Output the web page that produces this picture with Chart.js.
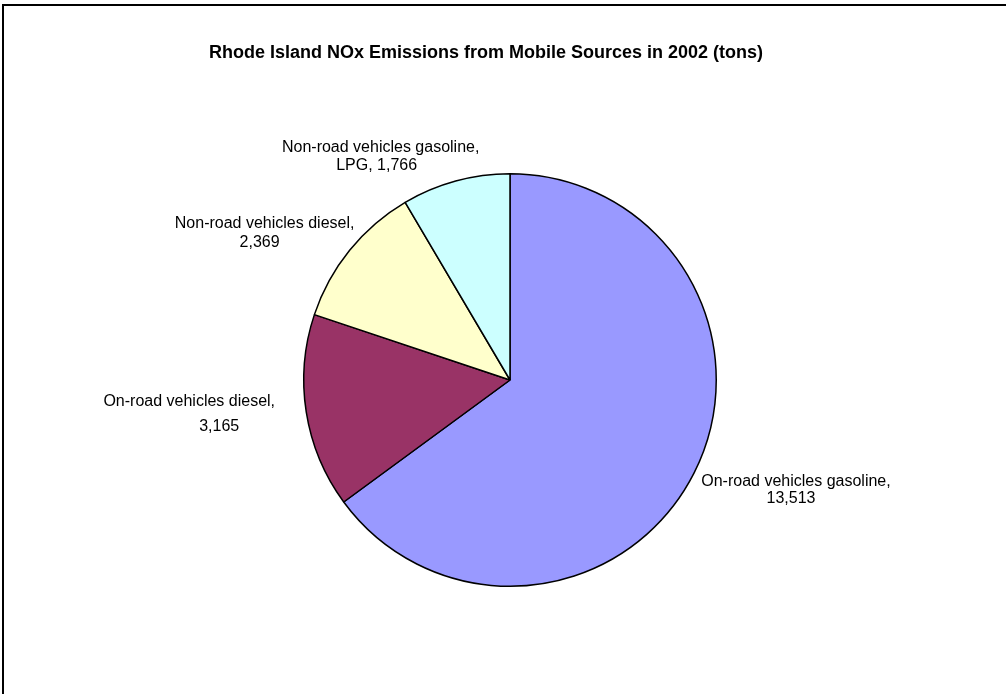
<!DOCTYPE html>
<html>
<head>
<meta charset="utf-8">
<title>Rhode Island NOx Emissions</title>
<script src="https://cdn.jsdelivr.net/npm/chart.js@4.4.1/dist/chart.umd.min.js"></script>
<style>
  html, body { margin: 0; padding: 0; background: #fff; overflow: hidden; }
  #wrap { position: relative; width: 1006px; height: 694px; }
  #frame {
    position: absolute; left: 2px; top: 4px; right: 0; bottom: 0;
    border-top: 2px solid #000; border-left: 2px solid #000;
    pointer-events: none;
  }
  canvas { position: absolute; left: 0; top: 0; }
</style>
</head>
<body>
<div id="wrap">
  <canvas id="pie" width="1006" height="694"></canvas>
  <div id="frame"></div>
</div>
<script>
const chartTitle = "Rhode Island NOx Emissions from Mobile Sources in 2002 (tons)";
const sources = [
  ["On-road vehicles gasoline,"],
  ["On-road vehicles diesel,"],
  ["Non-road vehicles diesel,"],
  ["Non-road vehicles gasoline,", "LPG,"]
];
const tons = [13513, 3165, 2369, 1766];
const sliceColors = ["#9999FF", "#993366", "#FFFFCC", "#CCFFFF"];

const fmt = (v) => v.toLocaleString("en-US");

// label lines as drawn next to each slice
function labelLines(i) {
  const parts = sources[i];
  if (parts.length > 1) return [parts[0], parts[1] + " " + fmt(tons[i])];
  return [parts[0], fmt(tons[i])];
}

// where each text line sits, relative to the slice's outer mid point
const lineOffsets = [
  [[102, 8], [97, 25]],
  [[-117, -10], [-87, 15]],
  [[-85, -27], [-90, -8]],
  [[-75, -33], [-79, -15]]
];

const pieLabels = {
  id: "pieLabels",
  afterDraw(chart) {
    const ctx = chart.ctx;
    ctx.save();
    ctx.fillStyle = "#000";
    ctx.textAlign = "center";
    ctx.textBaseline = "middle";

    ctx.font = "bold 18px Arial, 'Liberation Sans', sans-serif";
    ctx.fillText(chartTitle, 486, 53);

    ctx.font = "16px Arial, 'Liberation Sans', sans-serif";
    chart.getDatasetMeta(0).data.forEach((arc, i) => {
      const p = arc.getProps(["x", "y", "startAngle", "endAngle", "outerRadius"], true);
      const mid = (p.startAngle + p.endAngle) / 2;
      const ex = p.x + Math.cos(mid) * p.outerRadius;
      const ey = p.y + Math.sin(mid) * p.outerRadius;
      labelLines(i).forEach((line, j) => {
        const off = lineOffsets[i][j];
        ctx.fillText(line, ex + off[0], ey + off[1]);
      });
    });
    ctx.restore();
  }
};

new Chart(document.getElementById("pie"), {
  type: "pie",
  data: {
    labels: sources.map((s) => s.join(" ")),
    datasets: [
      {
        data: tons,
        backgroundColor: sliceColors,
        borderColor: "#000",
        borderWidth: 1.5,
      },
    ],
  },
  options: {
    responsive: false,
    animation: false,
    layout: {
      padding: { left: 303, right: 289, top: 173, bottom: 107 },
    },
    plugins: {
      legend: { display: false },
      title: { display: false },
      tooltip: { enabled: false },
    },
  },
  plugins: [pieLabels],
});
</script>
</body>
</html>
